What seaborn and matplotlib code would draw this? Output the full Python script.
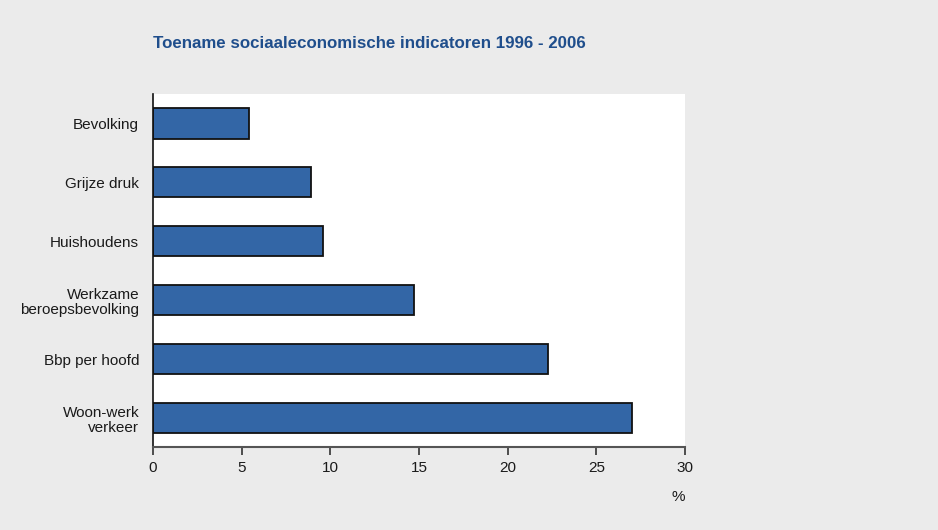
import pandas as pd
import seaborn as sns
import matplotlib.pyplot as plt

# Stijl
sns.set_style("white")
plt.rcParams['font.family'] = ['Liberation Sans', 'DejaVu Sans']

# Data (toename 1996 - 2006, %)
categories = ['Bevolking', 'Grijze druk', 'Huishoudens',
              'Werkzame\nberoepsbevolking', 'Bbp per hoofd', 'Woon-werk\nverkeer']
values = [5.4, 8.9, 9.6, 14.7, 22.3, 27.0]
x_ticks = [0, 5, 10, 15, 20, 25, 30]

df = pd.DataFrame({'Indicator': categories, 'Toename': values})

bg = '#ebebeb'
txt = '#1a1a1a'
fig = plt.figure(figsize=(9.38, 5.3), dpi=100, facecolor=bg)
ax = fig.add_axes([0.1631, 0.1566, 0.5672, 0.666])
ax.set_facecolor('white')

sns.barplot(data=df, x='Toename', y='Indicator', color='#3366a6', saturation=1,
            width=0.51, edgecolor='#111111', linewidth=1.3, ax=ax)

ax.set_xlim(0, 30)
ax.set_ylim(5.49, -0.5)
ax.set_xticks(x_ticks)
ax.set_xticklabels([str(t) for t in x_ticks])
ax.set_xlabel('')
ax.set_ylabel('')
ax.tick_params(axis='x', bottom=True, length=6, width=1.2, color='#333333',
               labelsize=11, labelcolor=txt, pad=4, direction='out')
ax.tick_params(axis='y', left=False, length=0, labelsize=11, labelcolor=txt, pad=10)
for lab in ax.get_yticklabels():
    lab.set_horizontalalignment('right')
    lab.set_multialignment('right')
    lab.set_linespacing(1.15)

for side in ['top', 'right']:
    ax.spines[side].set_visible(False)
ax.spines['left'].set_color('#111111')
ax.spines['left'].set_linewidth(1.2)
ax.spines['bottom'].set_color('#555555')
ax.spines['bottom'].set_linewidth(1.5)

fig.text(678 / 938, 1 - 497 / 530, '%', ha='center', va='center', fontsize=11, color=txt)
fig.text(153 / 938, 1 - 43 / 530, 'Toename sociaaleconomische indicatoren 1996 - 2006',
         ha='left', va='center', fontsize=12.2, fontweight='bold', color='#1f4e8c')

fig.savefig('out.png', dpi=100, facecolor=bg)
plt.close(fig)
